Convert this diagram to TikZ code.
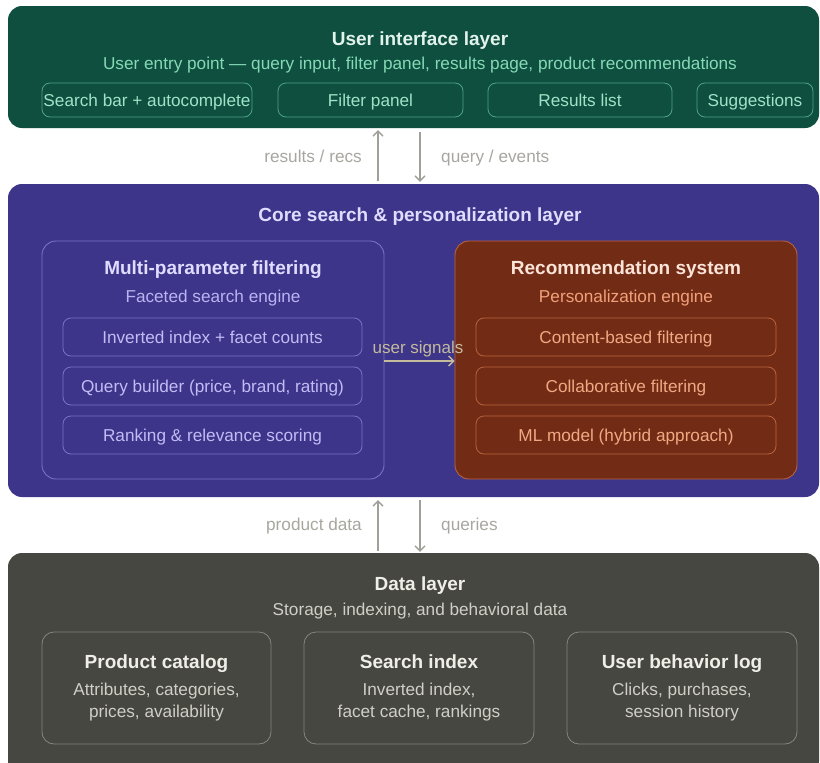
\documentclass[tikz,border=0pt]{standalone}
\usepackage{fontspec}
\setmainfont{Liberation Sans}
\usetikzlibrary{arrows.meta}
\newcommand\mysz[1]{\fontsize{#1}{#1}\selectfont}
\definecolor{uifill}{HTML}{0E4F40}
\definecolor{uititle}{HTML}{E2F3EC}
\definecolor{uisub}{HTML}{86D9B5}
\definecolor{uiline}{HTML}{4FA284}
\definecolor{uitext}{HTML}{9FE3C6}
\definecolor{cofill}{HTML}{3D3589}
\definecolor{cotitle}{HTML}{E0DCFF}
\definecolor{coline}{HTML}{7A71C9}
\definecolor{cosub}{HTML}{BAB3F2}
\definecolor{cotext}{HTML}{C2BBF5}
\definecolor{refill}{HTML}{722C15}
\definecolor{reline}{HTML}{B9623D}
\definecolor{retitle}{HTML}{FBE3D8}
\definecolor{resub}{HTML}{F2A07A}
\definecolor{retext}{HTML}{F2A883}
\definecolor{dafill}{HTML}{474741}
\definecolor{datitle}{HTML}{EFEFE8}
\definecolor{dasub}{HTML}{CFCFC7}
\definecolor{daline}{HTML}{85857D}
\definecolor{arr}{HTML}{A09F98}
\definecolor{arrlab}{HTML}{A8A79F}
\definecolor{sig}{HTML}{C4BA9C}
\begin{document}
\begin{tikzpicture}[x=1pt,y=-1pt,
  layer/.style={rounded corners=14pt, minimum width=811pt, inner sep=0pt},
  ltitle/.style={anchor=base, inner sep=0pt, font=\mysz{19}\bfseries},
  lsub/.style={anchor=base, inner sep=0pt, font=\mysz{17.2}},
  subbox/.style={draw, rounded corners=8pt, line width=0.8pt, inner sep=0pt, text height=12pt, text depth=0pt, font=\mysz{17.2}},
  panel/.style={draw, rounded corners=14pt, line width=0.9pt, minimum width=342pt, minimum height=238pt, inner sep=0pt},
  flow/.style={draw=arr, line width=1.4pt, -{Straight Barb[length=5pt,width=10pt]}},
  flab/.style={text=arrlab, inner sep=0pt, font=\mysz{17.2}}
]
\clip (0,0) rectangle (820,763);
\fill[white] (0,0) rectangle (820,763);

% ---------------- UI layer
\node[layer, fill=uifill, minimum height=122pt] (ui) at (413.5,67) {};
\node[ltitle, text=uititle] (uit) at (420,45) {User interface layer};
\node[lsub, text=uisub] (uis) at (420,69) {User entry point — query input, filter panel, results page, product recommendations};
\node[subbox, draw=uiline, text=uitext, minimum width=210pt, minimum height=34pt] (sb) at (147,100) {Search bar + autocomplete};
\node[subbox, draw=uiline, text=uitext, minimum width=185pt, minimum height=34pt] (fp) at (370.5,100) {Filter panel};
\node[subbox, draw=uiline, text=uitext, minimum width=184pt, minimum height=34pt] (rl) at (580,100) {Results list};
\node[subbox, draw=uiline, text=uitext, minimum width=116pt, minimum height=34pt] (sg) at (755,100) {Suggestions};

% ---------------- Core layer
\node[layer, fill=cofill, minimum height=313pt] (core) at (413.5,340.5) {};
\node[ltitle, text=cotitle] (cot) at (420,221.5) {Core search \& personalization layer};

\node[panel, draw=coline] (mpf) at (213,360) {};
\node[ltitle, text=cotitle] (mpft) at (213,274.5) {Multi-parameter filtering};
\node[lsub, text=cosub] (mpfs) at (213,302) {Faceted search engine};
\node[subbox, draw=coline, text=cotext, minimum width=299pt, minimum height=38pt] (ii) at (212.5,337) {Inverted index + facet counts};
\node[subbox, draw=coline, text=cotext, minimum width=299pt, minimum height=38pt] (qb) at (212.5,386) {Query builder (price, brand, rating)};
\node[subbox, draw=coline, text=cotext, minimum width=299pt, minimum height=38pt] (rr) at (212.5,435) {Ranking \& relevance scoring};

\node[panel, draw=reline, fill=refill] (rec) at (626,360) {};
\node[ltitle, text=retitle] (rect) at (626,274.5) {Recommendation system};
\node[lsub, text=resub] (recs) at (626,302) {Personalization engine};
\node[subbox, draw=reline, text=retext, minimum width=300pt, minimum height=38pt] (cb) at (626,337) {Content-based filtering};
\node[subbox, draw=reline, text=retext, minimum width=300pt, minimum height=38pt] (cf) at (626,386) {Collaborative filtering};
\node[subbox, draw=reline, text=retext, minimum width=300pt, minimum height=38pt] (ml) at (626,435) {ML model (hybrid approach)};

\draw[draw=sig, line width=1.4pt, -{Straight Barb[length=5pt,width=10pt]}] (mpf.east |- 0,361) -- (rec.west |- 0,361);
\node[text=sig, anchor=base, inner sep=0pt, font=\mysz{17}] (usig) at (418,353) {user signals};

% ---------------- Data layer
\node[layer, fill=dafill, minimum height=222pt] (data) at (413.5,664) {};
\node[ltitle, text=datitle] (dat) at (420,590.5) {Data layer};
\node[lsub, text=dasub] (das) at (420,615.5) {Storage, indexing, and behavioral data};

\node[subbox, draw=daline, rounded corners=12pt, minimum width=229pt, minimum height=112pt] (pc) at (156.5,688) {};
\node[subbox, draw=daline, rounded corners=12pt, minimum width=230pt, minimum height=112pt] (si) at (419,688) {};
\node[subbox, draw=daline, rounded corners=12pt, minimum width=230pt, minimum height=112pt] (ub) at (682,688) {};
\node[ltitle, text=datitle] (pct) at (156.5,668) {Product catalog};
\node[lsub, text=dasub] (pcs1) at (156.5,695.5) {Attributes, categories,};
\node[lsub, text=dasub] (pcs2) at (156.5,717) {prices, availability};
\node[ltitle, text=datitle] (sit) at (419,668) {Search index};
\node[lsub, text=dasub] (sis1) at (419,695.5) {Inverted index,};
\node[lsub, text=dasub] (sis2) at (419,717) {facet cache, rankings};
\node[ltitle, text=datitle] (ubt) at (682,668) {User behavior log};
\node[lsub, text=dasub] (ubs1) at (682,695.5) {Clicks, purchases,};
\node[lsub, text=dasub] (ubs2) at (682,717) {session history};

% ---------------- inter-layer flows
\draw[flow, shorten <=3pt, shorten >=2pt] (core.north -| 378,0) -- (ui.south -| 378,0);
\draw[flow, shorten <=4pt, shorten >=2pt] (ui.south -| 420,0) -- (core.north -| 420,0);
\node[flab, anchor=base east] (l1) at (362,162) {results / recs};
\node[flab, anchor=base west] (l2) at (441,162) {query / events};

\draw[flow, shorten <=2pt, shorten >=3pt] (data.north -| 378,0) -- (core.south -| 378,0);
\node[flab, anchor=base east] (l3) at (362,530) {product data};
\draw[flow, shorten <=3pt, shorten >=1pt] (core.south -| 420,0) -- (data.north -| 420,0);
\node[flab, anchor=base west] (l4) at (441,530) {queries};
\end{tikzpicture}
\end{document}
